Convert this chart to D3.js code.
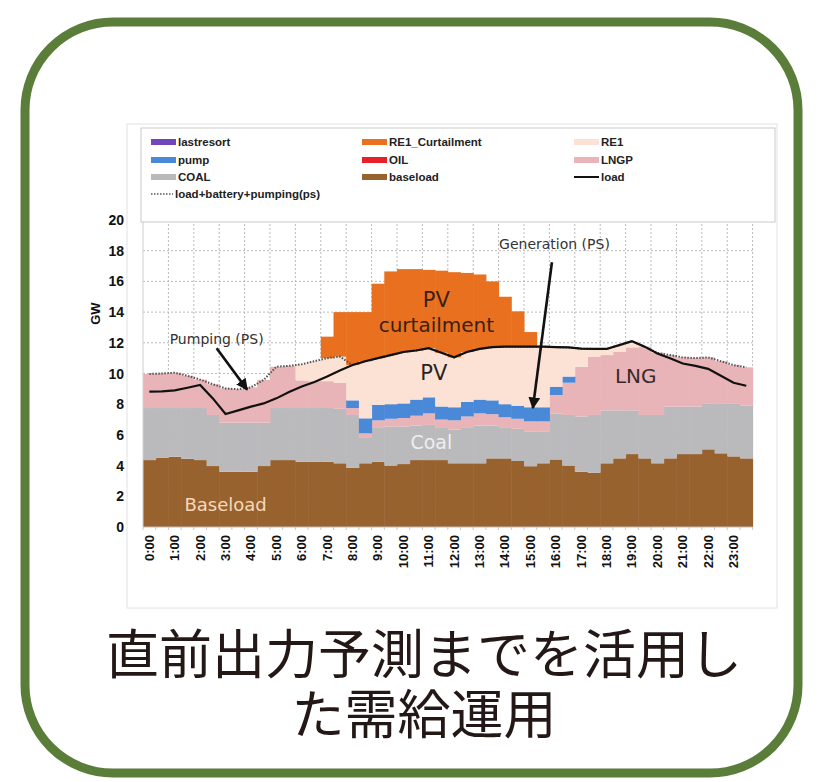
<!DOCTYPE html>
<html>
<head>
<meta charset="utf-8">
<script src="https://cdn.jsdelivr.net/npm/d3@7"></script>
<style>
  body { margin: 0; background: #fff; }
  svg { display: block; }
</style>
</head>
<body>
<div id="chart"></div>
<script>
// half-hour slots, 0:00 .. 23:30
const slots = d3.range(48);
const hourLabels = ["0:00", "1:00", "2:00", "3:00", "4:00", "5:00", "6:00", "7:00",
  "8:00", "9:00", "10:00", "11:00", "12:00", "13:00", "14:00", "15:00",
  "16:00", "17:00", "18:00", "19:00", "20:00", "21:00", "22:00", "23:00"];
const yTicks = [0, 2, 4, 6, 8, 10, 12, 14, 16, 18, 20];

// GW per slot
const baseload = [4.36, 4.5, 4.58, 4.45, 4.36, 3.97, 3.6, 3.6, 3.6, 3.97, 4.36, 4.36,
  4.25, 4.25, 4.25, 4.15, 3.85, 4.15, 4.25, 4.0, 4.1, 4.36, 4.36, 4.36,
  4.15, 4.15, 4.15, 4.47, 4.47, 4.3, 3.96, 4.15, 4.4, 4.0, 3.6, 3.54,
  4.15, 4.47, 4.75, 4.47, 4.15, 4.47, 4.75, 4.75, 5.06, 4.8, 4.6, 4.47];
const coal = [3.39, 3.25, 3.17, 3.3, 3.39, 3.33, 3.2, 3.2, 3.2, 2.83, 3.39, 3.39,
  3.5, 3.5, 3.5, 3.55, 3.45, 1.65, 2.25, 2.55, 2.45, 2.24, 2.29, 2.09,
  2.2, 2.35, 2.45, 2.13, 2.03, 2.1, 2.24, 2.05, 3.0, 3.3, 3.6, 3.76,
  3.45, 3.13, 2.85, 2.83, 3.15, 3.37, 3.09, 3.09, 3.0, 3.26, 3.46, 3.43];
const lngp = [2.22, 2.25, 2.3, 2.1, 1.85, 2.0, 2.23, 2.17, 2.3, 2.78, 2.69, 2.75,
  1.8, 1.75, 1.75, 1.7, 0.45, 0.3, 0.45, 0.5, 0.55, 0.65, 0.75, 0.55,
  0.6, 0.7, 0.8, 0.75, 0.65, 0.65, 0.68, 0.68, 1.2, 2.1, 3.24, 3.8,
  3.6, 3.8, 4.1, 4.45, 4.05, 3.36, 3.21, 3.16, 2.99, 2.74, 2.49, 2.5];
const pump = [0, 0, 0, 0, 0, 0, 0, 0, 0, 0, 0, 0,
  0, 0, 0, 0, 0.5, 0.98, 1.0, 0.95, 0.95, 1.05, 1.05, 0.85,
  0.85, 0.95, 0.9, 0.9, 0.85, 0.85, 0.92, 0.92, 0.54, 0.4, 0, 0,
  0, 0, 0, 0, 0, 0, 0, 0, 0, 0, 0, 0];
const re1 = [0, 0, 0, 0, 0, 0, 0, 0, 0, 0, 0, 0,
  1.05, 1.3, 1.5, 1.7, 2.3, 3.72, 3.05, 3.2, 3.35, 3.2, 3.2, 3.5,
  3.25, 3.25, 3.3, 3.47, 3.75, 3.85, 3.95, 3.95, 2.58, 1.9, 1.18, 0.5,
  0.4, 0.45, 0.4, 0, 0, 0, 0, 0, 0, 0, 0, 0];
const re1Curtailment = [0, 0, 0, 0, 0, 0, 0, 0, 0, 0, 0, 0,
  0, 0, 1.4, 2.9, 3.45, 3.2, 4.85, 5.45, 5.4, 5.3, 5.1, 5.35,
  5.55, 5.15, 4.85, 4.28, 3.25, 2.3, 0.95, 0, 0, 0, 0, 0,
  0, 0, 0, 0, 0, 0, 0, 0, 0, 0, 0, 0];
const load = [8.82, 8.84, 8.9, 9.07, 9.25, 8.38, 7.36, 7.6, 7.84, 8.05, 8.38, 8.8,
  9.15, 9.45, 9.8, 10.2, 10.55, 10.8, 11.0, 11.2, 11.4, 11.5, 11.65, 11.35,
  11.05, 11.4, 11.6, 11.72, 11.75, 11.75, 11.75, 11.75, 11.72, 11.7, 11.62, 11.6,
  11.6, 11.85, 12.1, 11.75, 11.3, 11.0, 10.65, 10.5, 10.3, 9.85, 9.4, 9.2];
const loadBatteryPumping = [9.97, 10.0, 10.05, 9.85, 9.6, 9.3, 9.03, 8.97, 9.1, 9.58, 10.44, 10.5,
  10.6, 10.8, 11.0, 11.1, 10.55, 10.8, 11.0, 11.2, 11.4, 11.5, 11.65, 11.35,
  11.05, 11.4, 11.6, 11.72, 11.75, 11.75, 11.75, 11.75, 11.72, 11.7, 11.62, 11.6,
  11.6, 11.85, 12.1, 11.75, 11.35, 11.2, 11.05, 11.0, 11.05, 10.8, 10.55, 10.4];

const colors = {
  lastresort: "#7046bd",
  RE1_Curtailment: "#e9701f",
  RE1: "#fbe2d4",
  pump: "#4a88d8",
  OIL: "#e8202a",
  LNGP: "#e8b4b8",
  COAL: "#bababd",
  baseload: "#98622f",
};

const width = 818, height = 782;
const margin = { left: 143, right: 65.4, top: 220, bottom: 255 };

const svg = d3.select("#chart").append("svg")
  .attr("width", width).attr("height", height);

// green rounded frame
svg.append("rect")
  .attr("x", 25).attr("y", 22).attr("width", 773).attr("height", 751)
  .attr("rx", 88).attr("fill", "#fff")
  .attr("stroke", "#5b7d3a").attr("stroke-width", 9);

// chart picture background
svg.append("rect")
  .attr("x", 127).attr("y", 124).attr("width", 650).attr("height", 484)
  .attr("fill", "#fff").attr("stroke", "#e2e2e2").attr("stroke-width", 1);

const x = d3.scaleBand().domain(slots).range([margin.left, width - margin.right]).padding(0);
const y = d3.scaleLinear().domain([0, 20]).range([height - margin.bottom, margin.top]);
const bw = x.bandwidth();
const cx = (i) => x(Math.floor(i)) + bw * (i - Math.floor(i)) + bw / 2;

// grid
const grid = svg.append("g").attr("stroke", "#b9b9b9").attr("stroke-dasharray", "2,2").attr("stroke-width", 1);
grid.selectAll(".hg").data(yTicks.slice(1)).join("line")
  .attr("x1", margin.left).attr("x2", width - margin.right)
  .attr("y1", (d) => y(d)).attr("y2", (d) => y(d));
grid.selectAll(".vg").data(d3.range(2, 49, 2)).join("line")
  .attr("x1", (d) => margin.left + d * bw).attr("x2", (d) => margin.left + d * bw)
  .attr("y1", y(20)).attr("y2", y(0));

// stacked bars
const keys = ["baseload", "COAL", "LNGP", "pump", "RE1", "RE1_Curtailment"];
const table = slots.map((i) => ({
  slot: i,
  baseload: baseload[i],
  COAL: coal[i],
  LNGP: lngp[i],
  pump: pump[i],
  RE1: re1[i],
  RE1_Curtailment: re1Curtailment[i],
}));
const series = d3.stack().keys(keys)(table);

svg.append("g").selectAll("g").data(series).join("g")
  .attr("fill", (d) => colors[d.key])
  .selectAll("rect").data((d) => d).join("rect")
  .attr("x", (d) => x(d.data.slot))
  .attr("width", bw + 0.5)
  .attr("y", (d) => y(d[1]))
  .attr("height", (d) => Math.max(0, y(d[0]) - y(d[1])));

// axes
svg.append("line")
  .attr("x1", margin.left).attr("x2", width - margin.right)
  .attr("y1", y(0)).attr("y2", y(0)).attr("stroke", "#bdbdbd");
svg.append("line")
  .attr("x1", margin.left).attr("x2", margin.left)
  .attr("y1", y(0)).attr("y2", y(20)).attr("stroke", "#cfcfcf");

svg.append("g").selectAll("text").data(yTicks).join("text")
  .attr("x", 124).attr("y", (d) => y(d)).attr("dy", "0.36em")
  .attr("text-anchor", "end")
  .attr("font-family", "Liberation Sans, Arial, sans-serif")
  .attr("font-weight", "bold").attr("font-size", 14).attr("fill", "#111")
  .text((d) => d);

svg.append("text")
  .attr("transform", `translate(100,${y(13.9)}) rotate(-90)`)
  .attr("text-anchor", "middle")
  .attr("font-family", "Liberation Sans, Arial, sans-serif")
  .attr("font-weight", "bold").attr("font-size", 13).attr("fill", "#111")
  .text("GW");

svg.append("g").selectAll("line").data(d3.range(0, 49)).join("line")
  .attr("x1", (d) => margin.left + d * bw).attr("x2", (d) => margin.left + d * bw)
  .attr("y1", y(0)).attr("y2", y(0) + 3).attr("stroke", "#c8c8c8");

svg.append("g").selectAll("text").data(hourLabels).join("text")
  .attr("transform", (d, i) => `translate(${cx(i * 2) + 4.5},${y(0) + 8}) rotate(-90)`)
  .attr("text-anchor", "end")
  .attr("font-family", "Liberation Sans, Arial, sans-serif")
  .attr("font-weight", "bold").attr("font-size", 13).attr("fill", "#111")
  .text((d) => d);

// lines
const lineGen = d3.line().x((d, i) => cx(i)).y((d) => y(d));
svg.append("path").datum(loadBatteryPumping)
  .attr("fill", "none").attr("stroke", "#555").attr("stroke-width", 2)
  .attr("stroke-dasharray", "1.5,1.5").attr("d", lineGen);
svg.append("path").datum(load)
  .attr("fill", "none").attr("stroke", "#111").attr("stroke-width", 2.2)
  .attr("d", lineGen);

// legend
const legendItems = [
  { name: "lastresort", color: colors.lastresort, type: "rect" },
  { name: "RE1_Curtailment", color: colors.RE1_Curtailment, type: "rect" },
  { name: "RE1", color: colors.RE1, type: "rect" },
  { name: "pump", color: colors.pump, type: "rect" },
  { name: "OIL", color: colors.OIL, type: "rect" },
  { name: "LNGP", color: colors.LNGP, type: "rect" },
  { name: "COAL", color: colors.COAL, type: "rect" },
  { name: "baseload", color: colors.baseload, type: "rect" },
  { name: "load", color: "#111", type: "line" },
  { name: "load+battery+pumping(ps)", color: "#555", type: "dotted" },
];
svg.append("rect")
  .attr("x", 141).attr("y", 128).attr("width", 634).attr("height", 94)
  .attr("fill", "#fff").attr("stroke", "#c9c9c9");
const colX = [151, 362, 574];
const rowY = [142, 160, 177, 194];
const legend = svg.append("g").selectAll("g").data(legendItems).join("g")
  .attr("transform", (d, i) => `translate(${colX[i % 3]},${rowY[Math.floor(i / 3)]})`);
legend.filter((d) => d.type === "rect").append("rect")
  .attr("x", 0).attr("y", -3).attr("width", 25).attr("height", 6)
  .attr("fill", (d) => d.color);
legend.filter((d) => d.type === "line").append("line")
  .attr("x1", 0).attr("x2", 25).attr("y1", 0).attr("y2", 0)
  .attr("stroke", (d) => d.color).attr("stroke-width", 2);
legend.filter((d) => d.type === "dotted").append("line")
  .attr("x1", 0).attr("x2", 22).attr("y1", 0).attr("y2", 0)
  .attr("stroke", (d) => d.color).attr("stroke-width", 1.5).attr("stroke-dasharray", "1.5,1.5");
legend.append("text")
  .attr("x", (d) => (d.type === "dotted" ? 24 : 27)).attr("y", 0).attr("dy", "0.35em")
  .attr("font-family", "Liberation Sans, Arial, sans-serif")
  .attr("font-weight", "bold").attr("font-size", 11.5).attr("fill", "#222")
  .text((d) => d.name);

// annotations (positions in slot / GW units)
const labels = [
  { text: "PV", s: 22.6, v: 14.8, size: 21, color: "#3a1f14" },
  { text: "curtailment", s: 22.6, v: 13.15, size: 20, color: "#3a1f14" },
  { text: "PV", s: 22.4, v: 10.05, size: 21, color: "#2a2222" },
  { text: "Coal", s: 22.2, v: 5.5, size: 19, color: "#eeeeee" },
  { text: "Baseload", s: 6.0, v: 1.45, size: 18, color: "#f6d8b8" },
  { text: "LNG", s: 38.3, v: 9.85, size: 20, color: "#3a2a2a" },
  { text: "Pumping (PS)", s: 5.3, v: 12.25, size: 14, color: "#333" },
  { text: "Generation (PS)", s: 31.9, v: 18.4, size: 14, color: "#333" },
];
svg.append("g").selectAll("text").data(labels).join("text")
  .attr("x", (d) => cx(d.s)).attr("y", (d) => y(d.v)).attr("dy", "0.35em")
  .attr("text-anchor", "middle")
  .attr("font-family", "DejaVu Sans, Verdana, sans-serif")
  .attr("font-size", (d) => d.size).attr("fill", (d) => d.color)
  .text((d) => d.text);

svg.append("defs").append("marker")
  .attr("id", "arrow").attr("viewBox", "0 0 10 10")
  .attr("refX", 9).attr("refY", 5)
  .attr("markerWidth", 4.5).attr("markerHeight", 4.5)
  .attr("orient", "auto-start-reverse")
  .append("path").attr("d", "M0,0 L10,5 L0,10 z").attr("fill", "#111");

const arrows = [
  { s0: 5.3, v0: 11.65, s1: 7.7, v1: 8.95 },
  { s0: 31.7, v0: 17.25, s1: 30.2, v1: 7.75 },
];
svg.append("g").selectAll("line").data(arrows).join("line")
  .attr("x1", (d) => cx(d.s0)).attr("y1", (d) => y(d.v0))
  .attr("x2", (d) => cx(d.s1)).attr("y2", (d) => y(d.v1))
  .attr("stroke", "#111").attr("stroke-width", 2.6)
  .attr("marker-end", "url(#arrow)");

// caption
const caption = ["直前出力予測までを活用し", "た需給運用"];
svg.append("g").selectAll("text").data(caption).join("text")
  .attr("x", 424).attr("y", (d, i) => 674 + i * 60)
  .attr("text-anchor", "middle")
  .attr("font-family", "Noto Sans CJK JP, sans-serif")
  .attr("font-size", 53).attr("fill", "#231815")
  .text((d) => d);
</script>
</body>
</html>
